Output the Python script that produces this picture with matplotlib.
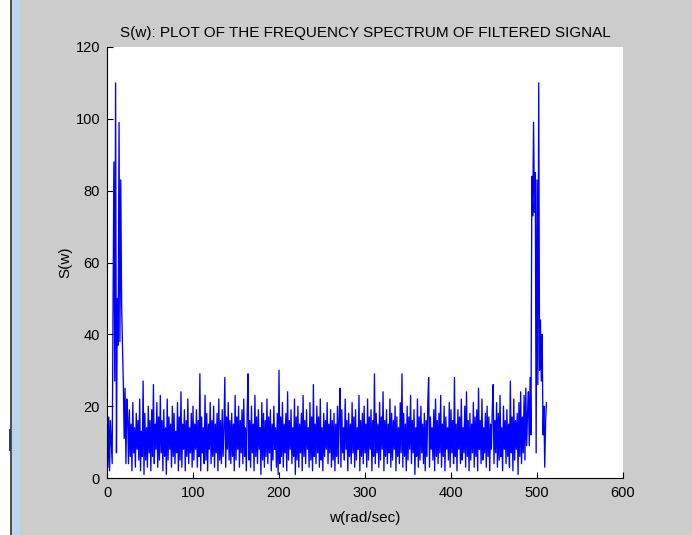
import numpy as np
import matplotlib
matplotlib.use('Agg')
import matplotlib.pyplot as plt
import matplotlib.patches as mpatches

plt.rcParams['font.family'] = ['Liberation Sans', 'DejaVu Sans']

# Spectrum magnitude, one value per frequency bin (w = 0..511)
peak_left = [21, 3, 17, 2, 16, 10, 4, 45, 88, 27, 110, 7, 50, 37, 99, 38,
             83, 48, 37, 26, 11, 25, 4, 22]

noise = [
    17, 4, 19, 6, 15, 2, 21, 7, 14, 3, 18, 8, 16, 5, 22, 2, 13, 6, 27, 1,
    18, 5, 14, 3, 20, 7, 16, 2, 19, 6, 26, 4, 15, 8, 21, 3, 17, 5, 23, 7,
    16, 2, 19, 6, 14, 1, 22, 5, 17, 8, 15, 3, 20, 6, 18, 4, 13, 7, 21, 2,
    17, 5, 24, 3, 15, 8, 19, 2, 16, 6, 22, 4, 14, 7, 18, 3, 20, 5, 15, 8,
    19, 3, 16, 6, 29, 2, 17, 7, 14, 4, 23, 5, 18, 2, 15, 8, 21, 4, 16, 6,
    20, 3, 15, 7, 18, 2, 22, 5, 16, 4, 19, 6, 14, 28, 3, 17, 8, 21, 5, 16,
    4, 18, 6, 15, 2, 23, 5, 17, 8, 20, 3, 16, 7, 19, 4, 22, 6, 14, 2, 18,
    29, 5, 16, 3, 20, 7, 15, 2, 23, 6, 17, 4, 19, 8, 14, 1, 21, 5, 18, 3,
    16, 6, 22, 4, 17, 7, 19, 2, 15, 5, 20, 8, 14, 3, 18, 1, 30, 4, 17, 6,
    21, 3, 15, 7, 18, 2, 24, 5, 16, 8, 19, 4, 14, 6, 22, 1, 17, 5, 20, 3,
    15, 7, 18, 2, 23, 6, 16, 4, 19, 8, 14, 3, 21, 5, 17, 2, 26, 6, 15, 4,
    20, 7, 17, 3, 22, 5, 14, 2, 18, 6, 16, 8, 21, 4, 15, 7, 19, 3, 16, 5,
    18, 2, 15, 6, 20, 4, 17, 25, 3, 19, 7, 14, 5, 22, 8, 16, 2, 18, 6, 15,
    4, 21, 7, 17, 3, 19, 5, 14, 8, 23, 2, 16, 6, 18, 4, 20, 7, 15, 3, 22,
    5, 17, 8, 19, 2, 16, 6, 29, 4, 18, 7, 15, 3, 21, 5, 17, 8, 24, 2, 16,
    6, 19, 4, 15, 7, 22, 3, 18, 5, 16, 8, 20, 2, 17, 6, 14, 4, 21, 7, 29,
    3, 18, 6, 15, 2, 20, 5, 17, 8, 23, 4, 16, 7, 19, 1, 14, 6, 22, 3, 17,
    5, 20, 7, 15, 4, 18, 2, 16, 6, 21, 28, 3, 17, 8, 14, 5, 19, 2, 22, 6,
    16, 4, 18, 7, 23, 3, 15, 6, 20, 2, 17, 8, 14, 5, 21, 3, 19, 7, 16, 4,
    28, 6, 15, 2, 19, 8, 17, 4, 22, 5, 14, 7, 20, 3, 24, 6, 16, 2, 18, 5,
    15, 7, 21, 3, 17, 6, 19, 2, 25, 8, 16, 4, 22, 5, 14, 7, 18, 3, 20, 6,
    17, 2, 15, 8, 19, 26, 4, 16, 7, 21, 3, 18, 5, 23, 6, 14, 2, 20, 8, 16,
    4, 19, 6, 15, 3, 27, 7, 17, 2, 22, 5, 16, 8, 18, 1, 21, 6, 24, 4, 17,
    7, 23, 5, 25, 9, 18,
]

peak_right = [24, 9, 28, 12, 84, 73, 99, 74, 85, 7, 83, 26, 110, 30, 44, 27,
              40, 12, 20, 3, 16, 21]

s = np.array(peak_left + noise + peak_right, dtype=float)
w = np.arange(len(s))

fig = plt.figure(figsize=(6.92, 5.35), dpi=100)
fig.patch.set_facecolor('#cccccc')

# window frame strip on the left edge
fig.patches.append(mpatches.Rectangle((0, 0), 10 / 692, 1, transform=fig.transFigure,
                                      facecolor='white', edgecolor='none', zorder=0))
fig.patches.append(mpatches.Rectangle((10 / 692, 0), 2 / 692, 1, transform=fig.transFigure,
                                      facecolor='#505050', edgecolor='none', zorder=0))
fig.patches.append(mpatches.Rectangle((12 / 692, 0), 8 / 692, 1, transform=fig.transFigure,
                                      facecolor='#bcd4ec', edgecolor='none', zorder=0))
fig.patches.append(mpatches.Rectangle((9 / 692, 1 - 451 / 535), 2 / 692, 22 / 535,
                                      transform=fig.transFigure,
                                      facecolor='#2a3d66', edgecolor='none', zorder=1))

ax = fig.add_axes([107 / 692, 1 - 478 / 535, 516 / 692, 431 / 535])
ax.set_facecolor('white')
ax.plot(w, s, color='#0000ff', linewidth=0.95)

ax.set_xlim(0, 600)
ax.set_ylim(0, 120)
ax.set_xticks(range(0, 601, 100))
ax.set_yticks(range(0, 121, 20))
ax.tick_params(direction='in', length=4, width=0.8, labelsize=10.5,
               colors='black')
ax.tick_params(axis='x', pad=6)
ax.tick_params(axis='y', pad=5)
ax.spines['top'].set_visible(False)
ax.spines['right'].set_visible(False)
ax.spines['left'].set_linewidth(0.8)
ax.spines['bottom'].set_linewidth(0.8)

ax.set_title('S(w): PLOT OF THE FREQUENCY SPECTRUM OF FILTERED SIGNAL',
             fontsize=11, pad=7)
ax.set_xlabel('w(rad/sec)', fontsize=11, labelpad=8)
ax.set_ylabel('S(w)', fontsize=11, labelpad=2)

fig.savefig('out.png', dpi=100, facecolor=fig.get_facecolor())
